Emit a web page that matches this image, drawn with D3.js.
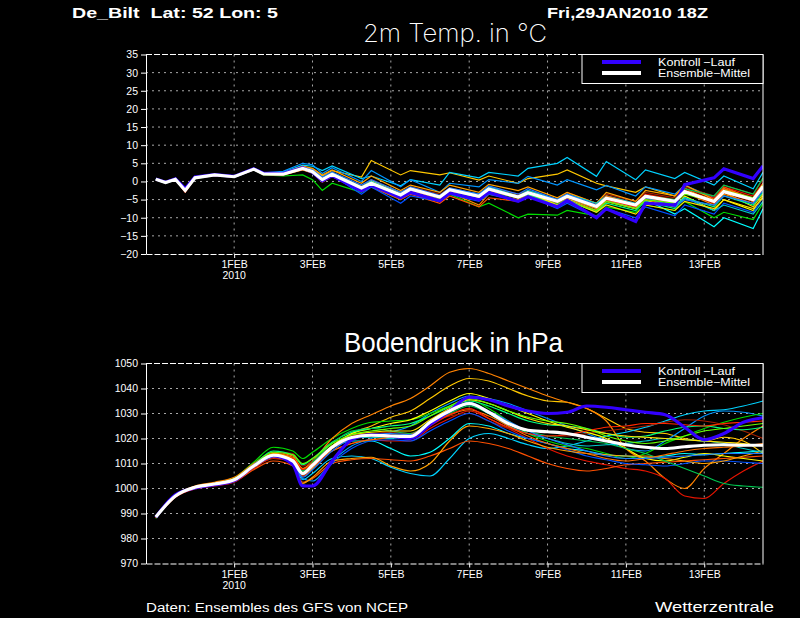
<!DOCTYPE html>
<html>
<head>
<meta charset="utf-8">
<script src="https://cdn.jsdelivr.net/npm/d3@7"></script>
<style>
  body { margin: 0; background: #000; }
  svg { display: block; }
</style>
</head>
<body>
<svg></svg>
<script>
// time axis in hours after 30JAN2010 00Z (run: 29JAN2010 18Z)
const tempHours = [0, 6, 12, 18, 24, 36, 48, 60, 66, 78, 90, 96, 102, 108,
  126, 132, 150, 156, 174, 180, 198, 204, 222, 228, 246, 252, 270, 276, 294, 300, 318, 324, 342, 348, 366, 372];
const presHours = [0, 12, 24, 36, 48, 60, 72, 84, 90, 96, 108, 120, 132, 144, 156, 168, 180, 192, 204, 216,
  228, 240, 252, 264, 276, 288, 300, 312, 324, 336, 348, 360, 372];

const dayHours = [48, 96, 144, 192, 240, 288, 336];
const dayLabels = ["1FEB", "3FEB", "5FEB", "7FEB", "9FEB", "11FEB", "13FEB"];
const tempTicks = [-20, -15, -10, -5, 0, 5, 10, 15, 20, 25, 30, 35];
const presTicks = [970, 980, 990, 1000, 1010, 1020, 1030, 1040, 1050];

const memberColors = ["#ffc800", "#00d2ff", "#0096ff", "#00dc00", "#00ffff", "#ff8200", "#e61400", "#a01e00",
  "#ffff00", "#ff5000", "#00ff80", "#0050ff", "#ffa000", "#00c850", "#00c8c8", "#ff7000", "#ff2800",
  "#ffe100", "#1e78ff", "#64ff00"];

// 2m temperature, ensemble members
const tempMembers = [
  [0.5,-0.4,0.5,-2.2,1.2,1.9,1.5,3.5,2.3,2.4,4.0,3.4,1.5,3.0, 1.2,5.8,1.8,3.0,1.8,2.4,0.4,1.5,-0.5,0.8,2.0,3.2,-0.5,-1.2,-3.0,-1.5,-4.0,-1.8,-6.0,-3.0,-7.0,-3.5],
  [0.7,-0.2,0.8,-1.8,1.1,1.7,1.2,3.3,2.2,2.5,4.5,4.2,3.0,4.3, 0.8,1.5,-1.2,0.5,-1.0,2.5,1.0,2.5,1.5,3.6,5.0,6.6,1.4,5.5,0.5,3.2,0.8,2.5,-1.0,1.5,-2.0,2.5],
  [0.6,-0.3,0.7,-2.0,1.3,1.8,1.4,3.6,2.4,2.8,5.0,4.6,2.2,3.8, 0.0,3.0,-1.5,0.5,-3.0,-0.5,-1.5,0.5,-0.5,1.4,-1.0,0.5,-2.3,-1.1,-4.0,-1.5,-3.5,-1.0,-4.5,-2.0,-5.5,-1.8],
  [0.5,-0.5,0.4,-2.8,0.8,1.7,1.1,3.2,1.8,1.5,1.8,0.5,-2.5,-0.5, -3.0,-1.5,-5.0,-3.0,-5.5,-3.5,-7.0,-6.0,-10.0,-9.0,-9.3,-8.0,-9.5,-7.0,-8.5,-6.5,-8.0,-5.5,-10.0,-8.5,-10.5,-6.0],
  [0.6,-0.3,0.5,-2.4,1.0,1.8,1.3,3.4,2.0,1.9,3.4,2.4,0.2,1.8, -2.5,-1.0,-4.5,-3.0,-5.0,-3.0,-4.5,-2.5,-4.0,-3.0,-5.5,-4.5,-7.5,-5.0,-7.5,-5.0,-9.0,-7.5,-12.5,-10.0,-13.0,-7.5],
  [0.6,-0.4,0.6,-2.6,0.9,1.8,1.2,3.3,2.0,1.8,3.2,2.3,0.0,1.5, -2.5,-1.0,-4.5,-2.8,-5.5,-3.0,-6.5,-3.5,-5.0,-3.8,-6.0,-4.5,-7.5,-5.0,-7.0,-4.5,-6.0,-3.0,-6.5,-3.5,-6.0,-2.0],
  [0.5,-0.3,0.6,-3.0,0.9,1.6,1.2,3.3,2.1,1.9,3.5,2.8,0.8,2.3, -1.5,0.0,-3.5,-2.0,-4.0,-2.5,-4.0,-1.5,-3.5,-2.5,-5.0,-3.5,-6.5,-4.0,-6.0,-3.5,-5.0,-2.0,-4.5,-1.5,-4.0,-0.5],
  [0.6,-0.3,0.6,-2.7,1.1,1.8,1.3,3.4,2.2,2.1,3.8,3.0,0.6,2.2, -1.2,0.5,-3.0,-1.5,-3.5,-1.8,-3.5,-1.5,-3.8,-2.5,-5.0,-3.0,-6.0,-3.5,-5.5,-3.0,-4.5,-1.5,-4.0,-1.0,-3.5,0.5],
  [0.6,-0.3,0.6,-2.4,1.0,1.9,1.3,3.4,2.0,2.2,3.9,2.9,0.7,2.4, -1.5,0.2,-3.0,-1.8,-4.0,-2.0,-4.0,-2.0,-4.5,-3.5,-6.0,-4.8,-8.0,-5.5,-7.5,-5.2,-7.0,-4.0,-8.0,-5.0,-8.0,-4.0],
  [0.6,-0.3,0.6,-2.9,0.9,1.7,1.2,3.2,1.9,1.8,3.3,2.4,-0.2,1.4, -2.8,-1.5,-5.0,-3.5,-6.0,-4.0,-7.0,-4.5,-5.5,-4.0,-6.5,-5.0,-8.0,-5.5,-7.5,-5.0,-6.5,-2.5,-5.5,-1.5,-5.0,-1.0],
  [0.6,-0.2,0.6,-2.3,1.1,1.8,1.4,3.4,2.1,2.0,3.6,2.6,0.3,1.9, -2.0,-0.5,-4.0,-2.5,-4.5,-2.8,-4.5,-2.5,-4.5,-3.5,-6.5,-5.0,-8.5,-6.0,-8.0,-5.5,-7.5,-4.5,-7.0,-4.0,-6.5,-3.0],
  [0.6,-0.3,0.6,-2.5,1.0,1.8,1.3,3.4,2.1,2.1,3.7,2.6,0.2,1.7, -3.5,-1.5,-6.0,-4.0,-5.5,-3.5,-5.5,-3.5,-5.5,-4.0,-7.5,-6.0,-10.0,-7.5,-10.0,-7.0,-9.5,-6.5,-9.0,-6.0,-8.5,-4.5],
  [0.6,-0.3,0.6,-2.5,1.0,1.8,1.3,3.4,2.1,2.3,4.2,3.6,1.8,3.2, -0.5,1.5,-2.5,-1.0,-3.0,-1.0,-3.0,-0.8,-2.5,-1.5,-4.5,-3.0,-6.0,-3.0,-5.5,-2.5,-4.0,-1.0,-5.0,-2.0,-5.5,-1.5],
  [0.6,-0.3,0.6,-2.6,1.0,1.8,1.3,3.4,2.1,2.0,3.5,2.5,0.5,2.0, -2.0,-0.8,-4.0,-2.2,-4.5,-2.5,-5.0,-3.0,-4.5,-3.0,-6.0,-4.5,-7.0,-4.5,-6.5,-4.0,-5.0,-2.0,-4.0,-1.0,-3.5,1.0],
  [0.6,-0.3,0.6,-2.4,1.0,1.8,1.3,3.4,2.1,2.1,3.8,2.9,0.8,2.3, -1.5,0.0,-3.5,-2.0,-4.0,-2.0,-3.5,-1.5,-4.0,-2.5,-5.0,-3.5,-6.0,-4.0,-6.0,-4.0,-6.5,-4.5,-8.0,-6.5,-9.0,-5.5],
  [0.6,-0.3,0.6,-2.7,1.0,1.8,1.3,3.4,2.1,2.0,3.4,2.6,0.4,1.8, -2.2,-0.8,-4.0,-2.5,-5.0,-2.8,-5.0,-2.5,-4.5,-3.0,-5.5,-4.0,-7.0,-4.0,-6.5,-4.0,-5.5,-2.5,-5.0,-2.0,-4.5,-0.5],
  [0.6,-0.3,0.6,-2.6,1.0,1.8,1.3,3.4,2.1,2.0,3.6,2.7,0.6,2.1, -1.8,-0.5,-3.8,-2.2,-4.5,-2.5,-4.2,-2.0,-4.5,-3.2,-5.8,-4.5,-7.0,-5.0,-7.0,-4.5,-6.0,-3.0,-6.0,-3.0,-5.5,-2.0],
  [0.6,-0.3,0.6,-2.5,1.0,1.8,1.3,3.4,2.1,2.0,3.7,2.8,0.6,2.0, -1.6,-0.3,-3.6,-2.0,-4.2,-2.2,-4.5,-2.2,-4.0,-3.0,-6.5,-5.2,-8.5,-6.5,-9.0,-6.5,-8.0,-5.5,-7.5,-5.0,-7.5,-4.5],
  [0.6,-0.3,0.6,-2.5,1.0,1.8,1.3,3.4,2.1,2.0,3.9,3.2,1.2,2.6, -1.0,0.5,-3.0,-1.5,-3.8,-1.8,-3.5,-1.2,-3.5,-2.0,-5.0,-3.5,-6.5,-4.5,-6.5,-4.5,-7.0,-5.0,-6.5,-4.0,-6.0,-2.5],
  [0.6,-0.3,0.6,-2.4,1.0,1.8,1.3,3.4,2.1,2.0,3.5,2.6,0.2,1.7, -2.5,-1.2,-4.5,-3.0,-5.0,-3.0,-5.0,-2.8,-5.5,-4.0,-7.0,-5.5,-8.0,-5.5,-7.5,-5.0,-6.0,-3.5,-5.5,-2.5,-4.5,-1.0]
];
const tempControl = [0.7,-0.2,0.7,-2.0,1.2,1.9,1.4,3.5,2.3,2.2,3.8,2.5,0.2,1.6, -2.6,-1.0,-4.5,-3.0,-5.3,-3.2,-5.0,-3.0,-5.5,-4.2,-7.0,-5.2,-10.0,-7.5,-11.0,-6.0,-6.5,-0.9,1.0,3.5,0.8,4.3];
const tempMean = [0.6,-0.3,0.6,-2.5,1.0,1.8,1.3,3.4,2.1,2.0,3.6,2.7,0.5,2.0, -1.8,-0.5,-3.7,-2.1,-4.3,-2.3,-4.1,-2.1,-4.3,-3.1,-5.5,-4.1,-6.9,-4.6,-6.5,-4.1,-5.5,-2.8,-5.5,-2.8,-5.0,-1.4];

// surface pressure, ensemble members
const presMembers = [
  [988.4,997.2,1000.8,1002.0,1003.8,1009.5,1014.0,1012.0,1005.0,1008.0, 1016.0,1022.0,1025.0,1028.5,1031.0,1036.0,1041.0,1044.0,1043.0,1040.0, 1037.0,1035.0,1034.5,1032.0,1028.0,1024.0,1022.5,1022.0,1020.0,1019.0, 1020.5,1019.0,1014.0],
  [988.7,996.8,1000.2,1001.5,1003.0,1008.0,1012.5,1010.0,1003.5,1006.0, 1012.0,1013.0,1012.0,1008.5,1006.0,1005.0,1012.0,1020.0,1022.0,1020.0, 1017.5,1016.0,1017.0,1019.0,1021.0,1022.5,1024.5,1027.0,1029.5,1031.0, 1031.5,1033.0,1035.0],
  [988.6,997.1,1000.6,1001.9,1003.4,1009.0,1013.5,1011.0,1004.0,1003.0, 1011.0,1017.0,1020.0,1022.5,1025.0,1030.0,1034.0,1037.0,1036.0,1034.0, 1031.0,1028.0,1025.0,1022.0,1019.0,1016.0,1015.0,1019.0,1024.0,1029.0, 1031.0,1030.5,1029.0],
  [988.0,996.8,1000.6,1002.2,1004.2,1010.5,1016.5,1015.0,1012.0,1014.5, 1020.0,1024.0,1026.5,1027.0,1027.5,1030.0,1033.0,1035.5,1032.0,1027.0, 1022.0,1019.0,1017.0,1016.0,1014.0,1012.0,1014.0,1018.0,1021.0,1024.0, 1026.5,1028.5,1030.0],
  [988.7,997.0,1000.4,1001.6,1003.4,1009.2,1013.0,1011.5,1007.0,1010.0, 1016.0,1019.0,1019.0,1016.0,1013.0,1014.5,1020.0,1026.0,1025.0,1022.0, 1020.0,1018.0,1016.0,1015.0,1013.5,1013.0,1012.5,1013.0,1014.0,1013.5, 1014.0,1014.5,1015.0],
  [988.5,997.4,1001.0,1002.5,1004.5,1010.0,1014.5,1013.0,1008.0,1011.0, 1020.0,1026.0,1029.5,1033.0,1036.0,1041.0,1046.5,1048.0,1046.0,1043.0, 1040.0,1037.0,1034.5,1032.0,1027.0,1016.0,1011.0,1004.0,1000.0,1008.0, 1014.0,1020.0,1025.0],
  [988.3,996.5,999.8,1001.0,1002.5,1008.0,1012.0,1010.5,1005.0,1008.5, 1015.0,1018.0,1019.5,1019.0,1019.0,1024.0,1028.0,1031.0,1028.0,1024.0, 1020.0,1016.0,1013.0,1011.0,1009.5,1008.0,1007.0,1004.0,997.0,996.0, 1002.0,1007.0,1011.0],
  [988.5,997.0,1000.5,1001.8,1003.6,1009.5,1014.5,1014.0,1009.0,1011.0, 1017.0,1021.0,1022.0,1022.5,1022.0,1026.0,1029.0,1030.0,1027.0,1024.0, 1022.0,1021.0,1021.0,1022.0,1023.0,1024.0,1025.0,1026.5,1027.5,1027.0, 1025.5,1023.0,1020.0],
  [988.6,997.1,1000.7,1002.0,1003.8,1009.5,1013.5,1011.5,1006.5,1009.5, 1017.0,1022.0,1024.0,1026.0,1027.5,1031.0,1035.0,1038.0,1036.0,1033.0, 1030.0,1027.0,1024.5,1022.5,1020.0,1016.0,1012.0,1011.0,1012.5,1014.0, 1013.0,1012.0,1011.0],
  [988.4,996.6,1000.0,1001.2,1002.8,1007.5,1011.0,1009.0,1002.5,1004.0, 1010.0,1011.5,1012.0,1011.5,1011.0,1013.0,1016.0,1019.0,1018.0,1016.0, 1013.0,1010.0,1008.0,1007.0,1008.0,1009.5,1010.0,1010.5,1011.0,1011.5, 1012.0,1012.5,1013.0],
  [988.6,997.0,1000.5,1001.9,1003.6,1009.5,1015.0,1013.5,1009.5,1012.0, 1018.5,1022.5,1024.0,1025.0,1026.0,1029.0,1032.5,1035.0,1033.0,1030.0, 1027.0,1025.5,1025.0,1024.0,1022.0,1020.5,1021.0,1023.0,1024.5,1025.0, 1024.0,1023.5,1024.5],
  [988.5,996.8,1000.3,1001.6,1003.2,1008.5,1013.0,1011.0,1001.5,1001.0, 1010.0,1016.0,1019.0,1019.5,1019.0,1023.0,1027.0,1030.0,1027.0,1023.0, 1020.0,1018.0,1015.5,1013.0,1011.5,1010.0,1009.5,1009.0,1010.0,1011.0, 1011.0,1010.5,1010.0],
  [988.6,997.0,1000.4,1001.7,1003.3,1008.5,1012.5,1010.0,1002.0,1004.5, 1011.0,1012.0,1012.5,1009.0,1007.0,1010.0,1019.0,1025.0,1024.0,1022.0, 1019.0,1016.5,1015.0,1014.0,1013.5,1013.0,1013.0,1012.0,1011.0,1010.0, 1011.0,1013.0,1015.0],
  [988.6,997.1,1000.6,1001.9,1003.5,1009.0,1013.5,1011.5,1007.0,1010.5, 1018.0,1023.0,1024.0,1023.0,1022.0,1026.0,1030.0,1033.0,1030.0,1026.0, 1023.0,1021.0,1020.0,1019.0,1018.0,1016.0,1014.0,1011.0,1008.0,1005.0, 1002.0,1001.0,1000.5],
  [988.7,997.0,1000.4,1001.8,1003.4,1009.0,1013.0,1011.0,1005.5,1009.0, 1016.5,1020.0,1020.5,1020.0,1021.0,1027.0,1031.0,1033.5,1030.0,1025.0, 1022.0,1020.0,1018.0,1017.0,1017.5,1018.0,1019.0,1020.0,1019.5,1019.0, 1018.0,1016.0,1014.5],
  [988.5,996.9,1000.4,1001.7,1003.5,1009.0,1014.0,1012.5,1008.0,1010.0, 1015.0,1018.0,1019.5,1020.5,1021.5,1026.0,1029.5,1031.5,1029.0,1025.0, 1021.0,1018.0,1016.0,1014.0,1012.0,1011.0,1012.0,1013.5,1015.0,1016.0, 1016.5,1017.0,1018.0],
  [988.3,996.7,1000.1,1001.5,1003.0,1008.5,1013.5,1012.0,1007.5,1010.0, 1016.0,1020.0,1021.0,1021.0,1020.5,1025.0,1029.5,1032.0,1028.0,1024.5, 1022.0,1021.0,1021.5,1023.0,1024.5,1025.0,1026.0,1026.0,1025.5,1025.0, 1026.0,1026.5,1027.0],
  [988.6,997.0,1000.6,1002.0,1003.7,1009.2,1013.8,1011.5,1006.0,1009.5, 1017.0,1021.5,1022.5,1023.0,1023.0,1027.5,1032.0,1035.5,1034.0,1031.0, 1028.0,1026.0,1025.0,1023.5,1022.0,1021.0,1020.5,1020.0,1019.5,1019.0, 1018.5,1018.0,1017.0],
  [988.6,997.0,1000.5,1001.8,1003.5,1009.0,1013.0,1010.5,1004.5,1007.5, 1015.0,1020.0,1021.5,1022.0,1021.5,1026.5,1031.5,1034.5,1031.0,1027.0, 1023.0,1020.0,1017.5,1015.0,1013.0,1012.0,1012.0,1012.5,1013.0,1013.5, 1014.0,1014.0,1014.0],
  [988.5,997.0,1000.6,1002.0,1003.6,1009.5,1014.5,1013.5,1010.0,1012.0, 1018.0,1021.5,1023.0,1024.0,1025.0,1029.0,1033.0,1036.0,1034.0,1031.0, 1028.5,1027.0,1026.0,1024.0,1021.0,1019.0,1018.0,1019.0,1021.0,1023.0, 1024.0,1025.0,1026.0]
];
const presControl = [988.5,997.5,1000.2,1001.5,1003.2,1009.0,1013.0,1009.5,1001.0,1001.0, 1011.0,1019.5,1021.5,1021.0,1020.0,1025.5,1031.0,1036.5,1035.5,1033.0, 1031.0,1030.0,1030.5,1033.0,1032.5,1031.5,1030.5,1029.5,1024.5,1019.5, 1022.0,1026.5,1028.3];
const presMean = [988.6,997.0,1000.5,1001.8,1003.5,1009.0,1013.3,1011.0,1006.0,1009.3, 1016.5,1020.4,1021.3,1021.0,1020.8,1026.5,1031.0,1034.0,1030.5,1026.0, 1023.3,1022.7,1022.0,1020.5,1019.0,1017.5,1016.5,1016.0,1016.7,1017.3, 1017.5,1017.3,1017.3];

const W = 800, H = 618;
const left = 146, right = 763;
const tickFont = "10.5px 'Liberation Sans', Arial, sans-serif";

const svg = d3.select("svg").attr("width", W).attr("height", H);
svg.append("rect").attr("width", W).attr("height", H).attr("fill", "#000");

const x = d3.scaleLinear().domain([-6, 372]).range([left, right]);

function drawPanel(id, top, bottom, domain, ticks, hours, members, control, mean, curve) {
  const y = d3.scaleLinear().domain(domain).range([bottom, top]);
  const g = svg.append("g");

  g.append("clipPath").attr("id", id)
    .append("rect").attr("x", left).attr("y", top).attr("width", right - left).attr("height", bottom - top);

  // dotted grid
  g.selectAll(".hgrid").data(ticks.slice(1, -1)).enter().append("line")
    .attr("x1", left).attr("x2", right)
    .attr("y1", d => y(d)).attr("y2", d => y(d))
    .attr("stroke", "#a8a8a8").attr("stroke-dasharray", "2,4");
  g.selectAll(".vgrid").data(dayHours).enter().append("line")
    .attr("x1", d => x(d)).attr("x2", d => x(d))
    .attr("y1", top).attr("y2", bottom)
    .attr("stroke", "#a8a8a8").attr("stroke-dasharray", "2,4");

  const line = d3.line().x((d, i) => x(hours[i])).y(d => y(d)).curve(curve);
  const lines = g.append("g").attr("clip-path", `url(#${id})`);

  lines.selectAll(".member").data(members).enter().append("path")
    .attr("d", line)
    .attr("fill", "none")
    .attr("stroke", (d, i) => memberColors[i])
    .attr("stroke-width", 1.2);
  lines.append("path").attr("d", line(control))
    .attr("fill", "none").attr("stroke", "#3200ff").attr("stroke-width", 3.2);
  lines.append("path").attr("d", line(mean))
    .attr("fill", "none").attr("stroke", "#ffffff").attr("stroke-width", 3.2);

  // axes
  const yAxis = g.append("g").attr("transform", `translate(${left},0)`)
    .call(d3.axisLeft(y).tickValues(ticks).tickFormat(d3.format("d"))
      .tickSize(5).tickSizeOuter(0).tickPadding(3));
  const xAxis = g.append("g").attr("transform", `translate(0,${bottom})`)
    .call(d3.axisBottom(x).tickValues(dayHours).tickFormat((d, i) => dayLabels[i])
      .tickSize(4).tickSizeOuter(0).tickPadding(3));
  [yAxis, xAxis].forEach(a => {
    a.selectAll("line").attr("stroke", "#fff");
    a.select(".domain").attr("stroke", "#fff");
    a.selectAll("text").attr("fill", "#fff").style("font", tickFont);
  });
  xAxis.select(".domain").attr("stroke-dasharray", "6,2");

  g.append("text").attr("x", x(48)).attr("y", bottom + 25)
    .attr("text-anchor", "middle").attr("fill", "#fff").style("font", tickFont).text("2010");

  // frame: dashed top, solid right
  g.append("line").attr("x1", left).attr("x2", right).attr("y1", top).attr("y2", top)
    .attr("stroke", "#fff").attr("stroke-dasharray", "6,2");
  g.append("line").attr("x1", right).attr("x2", right).attr("y1", top).attr("y2", bottom)
    .attr("stroke", "#fff");

  // legend
  const lg = g.append("g").attr("transform", `translate(582,${top})`);
  lg.append("rect").attr("width", right - 582).attr("height", 29)
    .attr("fill", "#000").attr("stroke", "#fff");
  const legendItems = [["Kontroll\u2009\u2212Lauf", "#3200ff"], ["Ensemble\u2212Mittel", "#ffffff"]];
  legendItems.forEach(([label, color], i) => {
    lg.append("line").attr("x1", 20).attr("x2", 59).attr("y1", 7.5 + i * 11).attr("y2", 7.5 + i * 11)
      .attr("stroke", color).attr("stroke-width", 4);
    lg.append("text").attr("x", 76).attr("y", 11.8 + i * 11)
      .attr("fill", "#fff").style("font", "11px 'Liberation Sans', Arial, sans-serif")
      .attr("textLength", i === 0 ? 77 : 92).attr("lengthAdjust", "spacingAndGlyphs")
      .text(label);
  });
}

drawPanel("clipT", 54.5, 254, [-20, 35], tempTicks, tempHours, tempMembers, tempControl, tempMean, d3.curveLinear);
drawPanel("clipP", 363.5, 563.5, [970, 1050], presTicks, presHours, presMembers, presControl, presMean, d3.curveMonotoneX);

// titles and header
function label(txt, xPos, yPos, font, len, weight) {
  svg.append("text").attr("x", xPos).attr("y", yPos)
    .attr("fill", "#fff").style("font", font).style("font-weight", weight || "normal")
    .style("white-space", "pre")
    .attr("textLength", len).attr("lengthAdjust", "spacingAndGlyphs")
    .text(txt);
}
label("De_Bilt  Lat: 52 Lon: 5", 72, 18, "15px 'Liberation Sans', Arial, sans-serif", 206, "bold");
label("Fri,29JAN2010 18Z", 547, 18, "15px 'Liberation Sans', Arial, sans-serif", 161, "bold");
label("2m Temp. in \u00b0C", 363, 42, "25px Inter, 'DejaVu Sans', sans-serif", 184, "200");
label("Bodendruck in hPa", 344, 352, "28px 'Liberation Sans', Arial, sans-serif", 219, "normal");
label("Daten: Ensembles des GFS von NCEP", 146, 612, "12.5px 'Liberation Sans', Arial, sans-serif", 262, "normal");
label("Wetterzentrale", 655, 612, "14px 'Liberation Sans', Arial, sans-serif", 119, "normal");
</script>
</body>
</html>
